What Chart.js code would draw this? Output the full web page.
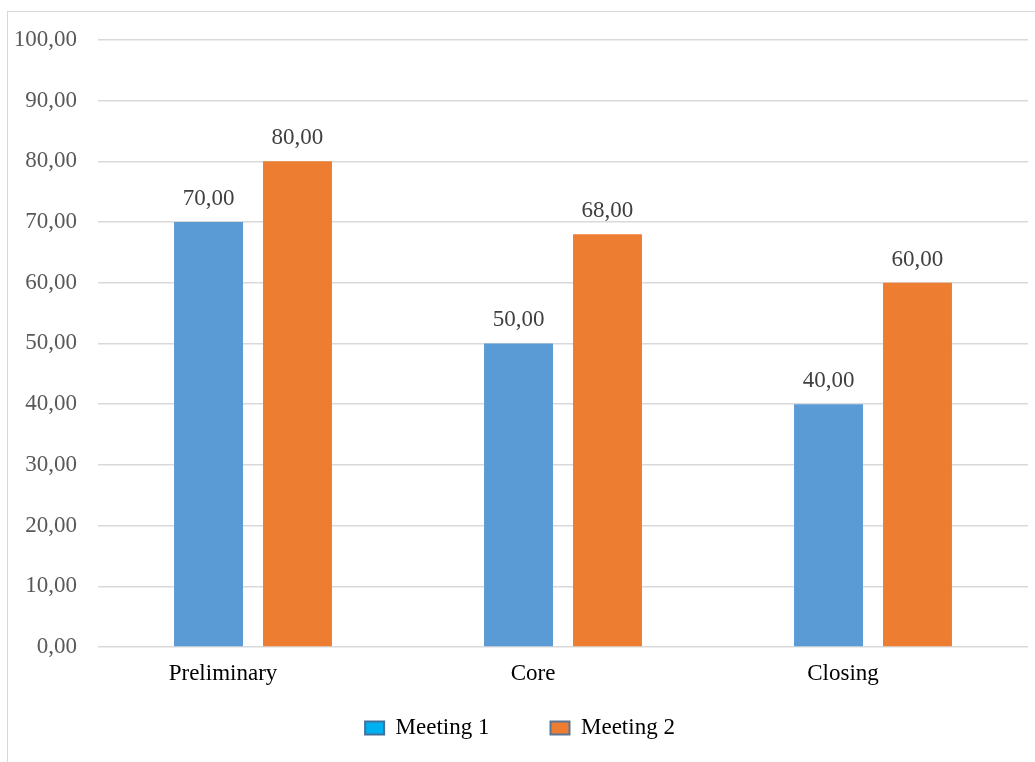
<!DOCTYPE html>
<html>
<head>
<meta charset="utf-8">
<script src="https://cdn.jsdelivr.net/npm/chart.js@4.4.1/dist/chart.umd.min.js"></script>
<style>
  html, body { margin: 0; padding: 0; background: #fff; overflow: hidden; }
  #box { position: absolute; left: 7px; top: 11px; width: 1036px; height: 760px;
         border-left: 1px solid #d9d9d9; border-top: 1px solid #d9d9d9; }
  #wrap { width: 1036px; height: 750px; }
</style>
</head>
<body>
<div id="box"><div id="wrap"><canvas id="chart"></canvas></div></div>
<script>
const categories = ['Preliminary', 'Core', 'Closing'];
const seriesNames = ['Meeting 1', 'Meeting 2'];
const meeting1 = [70, 50, 40];
const meeting2 = [80, 68, 60];
const yMin = 0, yMax = 100, yStep = 10;

const FONT = { family: '"Liberation Serif", "Times New Roman", serif', size: 23 };
const fmt = v => Number(v).toFixed(2).replace('.', ',');

// value labels above bars + category names under the axis
const extraLabels = {
  id: 'extraLabels',
  afterDatasetsDraw(chart) {
    const ctx = chart.ctx;
    ctx.save();
    ctx.font = FONT.size + 'px ' + FONT.family;
    ctx.textAlign = 'center';
    ctx.textBaseline = 'alphabetic';
    ctx.fillStyle = '#404040';
    chart.data.datasets.forEach((ds, i) => {
      chart.getDatasetMeta(i).data.forEach((bar, j) => {
        ctx.fillText(fmt(ds.data[j]), bar.x, bar.y - 17);
      });
    });
    const xs = chart.scales.x;
    ctx.fillStyle = '#000';
    chart.data.labels.forEach((lab, i) => {
      ctx.fillText(lab, xs.getPixelForValue(i) - 30, chart.chartArea.bottom + 33);
    });
    ctx.restore();
  }
};

const legendFill = ['#00B0F0', '#ED7D31'];
const legendStroke = ['#41719C', '#5A7595'];

new Chart(document.getElementById('chart'), {
  type: 'bar',
  data: {
    labels: categories,
    datasets: [{
      label: seriesNames[0],
      data: meeting1,
      backgroundColor: '#5B9BD5'
    }, {
      label: seriesNames[1],
      data: meeting2,
      backgroundColor: '#ED7D31'
    }]
  },
  options: {
    responsive: true,
    maintainAspectRatio: false,
    animation: false,
    categoryPercentage: 0.574,
    barPercentage: 0.775,
    layout: { padding: { top: 24, left: 4, right: 16, bottom: 12.5 } },
    plugins: {
      tooltip: { enabled: false },
      legend: {
        position: 'bottom',
        labels: {
          font: FONT,
          color: '#000',
          boxWidth: 19,
          boxHeight: 13,
          padding: 61,
          generateLabels: chart => chart.data.datasets.map((ds, i) => ({
            text: ds.label,
            fillStyle: legendFill[i],
            strokeStyle: legendStroke[i],
            lineWidth: 2,
            hidden: false,
            datasetIndex: i
          }))
        }
      }
    },
    scales: {
      x: {
        grid: { display: false, drawTicks: false },
        border: { display: false },
        ticks: { display: false },
        afterFit(s) { s.height = 8.5; }
      },
      y: {
        min: yMin,
        max: yMax,
        ticks: { stepSize: yStep, callback: v => fmt(v), font: { ...FONT, lineHeight: 0.6 }, color: '#595959', padding: 21 },
        grid: { color: '#d9d9d9', lineWidth: 1.5, drawTicks: false },
        border: { display: false },
        afterFit(s) { s.width = 86; }
      }
    }
  },
  plugins: [extraLabels]
});
</script>
</body>
</html>
